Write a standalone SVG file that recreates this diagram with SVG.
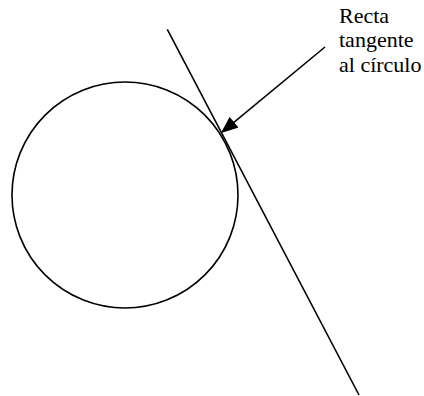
<svg xmlns="http://www.w3.org/2000/svg" width="424" height="396" viewBox="0 0 424 396">
  <style>
    .stroke { fill: none; stroke: #000; stroke-width: 1.6; }
    .label { font-family: "Liberation Serif", "Times New Roman", serif; font-size: 22px; fill: #000; }
  </style>
  <defs>
    <marker id="arrow" markerUnits="userSpaceOnUse" markerWidth="17" markerHeight="14" refX="14" refY="7" orient="auto">
      <path d="M0,0 L17,7 L0,14 z" fill="#000"/>
    </marker>
  </defs>
  <rect width="424" height="396" fill="#fff"/>
  <g id="circle">
    <circle class="stroke" cx="125" cy="195" r="113"/>
  </g>
  <g id="tangent-line">
    <line class="stroke" x1="167.3" y1="29.3" x2="359" y2="395"/>
  </g>
  <g id="label">
    <text class="label" x="339" y="22.5">Recta</text>
    <text class="label" x="339" y="47">tangente</text>
    <text class="label" x="339" y="71.5">al círculo</text>
  </g>
  <g id="connectors">
    <line class="stroke" x1="325" y1="47" x2="223.3" y2="131.1" marker-end="url(#arrow)"/>
  </g>
</svg>
